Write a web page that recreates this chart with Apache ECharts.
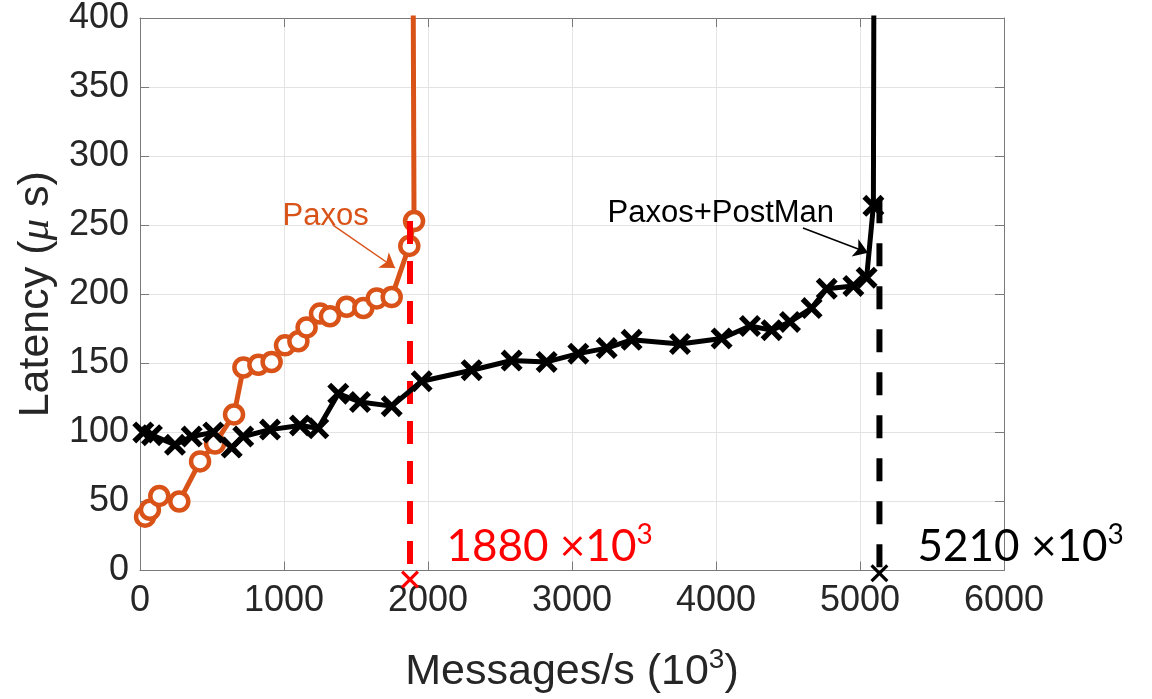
<!DOCTYPE html>
<html>
<head>
<meta charset="utf-8">
<script src="https://cdn.jsdelivr.net/npm/echarts@6/dist/echarts.min.js"></script>
<style>
html,body{margin:0;padding:0;background:#fff;}
#chart{width:1152px;height:699px;}
</style>
</head>
<body>
<div id="chart"></div>
<script>
// ---- data (x: messages/s in 10^3, y: latency in microseconds) ----
const paxosX = [35, 69, 134, 273, 417, 521, 653, 718, 822, 914, 1007, 1100, 1157, 1250, 1319, 1435, 1551, 1644, 1748, 1870, 1903];
const paxosY = [39, 44, 54, 50, 79, 92, 113, 147, 149, 151, 163, 166, 176, 186, 184, 191, 190, 197, 198, 235, 253];
const paxosTail = [1896, 450]; // line continues beyond top of axis (saturation)

const postmanX = [23, 83, 243, 359, 509, 637, 717, 903, 1111, 1238, 1377, 1528, 1748, 1956, 2303, 2581, 2824, 3044, 3241, 3414, 3750, 4039, 4236, 4386, 4514, 4664, 4769, 4954, 5046, 5093];
const postmanY = [100, 98, 91, 97, 100, 89, 97, 102, 105, 103, 128, 122, 119, 137, 145, 152, 151, 157, 161, 167, 164, 168, 177, 174, 180, 190, 204, 206, 212, 264];
const postmanTail = [5097, 450];

const paxosMaxX = 1875, paxosMaxTop = 253;
const postmanMaxX = 5135, postmanMaxTop = 268;
const markBelow = [[paxosMaxX, -6.5], [postmanMaxX, -2]];

const xTicks = [0, 1000, 2000, 3000, 4000, 5000, 6000];
const yTicks = [0, 50, 100, 150, 200, 250, 300, 350, 400];

const annoPaxos = {pos: [993, 256], text: 'Paxos'};
const annoPostman = {pos: [3250, 258], text: 'Paxos+PostMan'};
const arrowPaxos = [[1340, 250], [1771, 219]];
const arrowPostman = [[4604, 248], [5056, 230]];
const label1880 = {pos: [2132, 17], main: '1880 ×10', sup: '3'};
const label5210 = {pos: [5403, 17], main: '5210 ×10', sup: '3'};

// ---- build ----
const ORANGE = '#D95319';
const FONT = "'Liberation Sans', Arial, sans-serif";
const pax = paxosX.map((x, i) => [x, paxosY[i]]);
pax.push({value: paxosTail, symbol: 'none'});
const pm = postmanX.map((x, i) => [x, postmanY[i]]);
pm.push({value: postmanTail, symbol: 'none'});

const XPATH = 'path://M0,1.75L1.75,0L5,3.25L8.25,0L10,1.75L6.75,5L10,8.25L8.25,10L5,6.75L1.75,10L0,8.25L3.25,5Z';
const XPATH_THIN = 'path://M0,1.25L1.25,0L5,3.75L8.75,0L10,1.25L6.25,5L10,8.75L8.75,10L5,6.25L1.25,10L0,8.75L3.75,5Z';

const axisColor = '#7a7a7a';
const tickText = '#262626';

function textPoint(anno, color, size) {
  return {
    type: 'scatter', clip: false, silent: true, symbolSize: 1, z: 10,
    itemStyle: {color: 'rgba(0,0,0,0)', opacity: 1},
    data: [anno.pos],
    label: {show: true, position: [0, 0], align: 'left', verticalAlign: 'middle', opacity: 1,
      formatter: anno.text, color: color, fontSize: size, fontFamily: FONT}
  };
}
function supPoint(anno, color) {
  const ff = "Lato, 'Open Sans', sans-serif";
  return {
    type: 'scatter', clip: false, silent: true, symbolSize: 1, z: 10,
    itemStyle: {color: 'rgba(0,0,0,0)', opacity: 1},
    data: [anno.pos],
    label: {show: true, position: [0, 0], align: 'left', verticalAlign: 'middle', opacity: 1,
      formatter: '{a|' + anno.main + '}{b|' + anno.sup + '}',
      rich: {
        a: {fontSize: 44, fontFamily: ff, color: color, lineHeight: 52},
        b: {fontSize: 28, fontFamily: ff, color: color, lineHeight: 26, verticalAlign: 'top'}
      }}
  };
}

const option = {
  animation: false,
  backgroundColor: '#fff',
  grid: {left: 140, right: 148, top: 17, bottom: 128, containLabel: false},
  xAxis: [{
    type: 'value', min: 0, max: 6000, interval: 1000, position: 'bottom',
    axisLine: {show: true, onZero: false, lineStyle: {color: axisColor, width: 1}},
    axisTick: {show: true, inside: true, length: 9, lineStyle: {color: axisColor}},
    axisLabel: {color: tickText, fontSize: 36, fontFamily: FONT, margin: 13,
      formatter: v => xTicks.includes(v) ? String(v) : ''},
    splitLine: {show: true, lineStyle: {color: '#e3e3e3', width: 1}},
    name: '{a|Messages/s (10}{s|3}{a|)}', nameLocation: 'middle', nameGap: 76,
    nameTextStyle: {rich: {
      a: {fontSize: 43, fontFamily: FONT, color: tickText, lineHeight: 52},
      s: {fontSize: 28, fontFamily: FONT, color: tickText, lineHeight: 24, verticalAlign: 'top'}
    }}
  }, {
    type: 'value', min: 0, max: 6000, interval: 1000, position: 'top',
    axisLine: {show: true, onZero: false, lineStyle: {color: axisColor, width: 1}},
    axisTick: {show: true, inside: true, length: 9, lineStyle: {color: axisColor}},
    axisLabel: {show: false}, splitLine: {show: false}
  }],
  yAxis: [{
    type: 'value', min: 0, max: 400, interval: 50, position: 'left',
    axisLine: {show: true, onZero: false, lineStyle: {color: axisColor, width: 1}},
    axisTick: {show: true, inside: true, length: 9, lineStyle: {color: axisColor}},
    axisLabel: {color: tickText, fontSize: 36, fontFamily: FONT, margin: 11,
      formatter: v => yTicks.includes(v) ? String(v) : ''},
    splitLine: {show: true, lineStyle: {color: '#e3e3e3', width: 1}},
    name: '{a|Latency (}{m|μ}{a| s)}', nameLocation: 'middle', nameGap: 76, nameRotate: 90,
    nameTextStyle: {rich: {
      a: {fontSize: 43, fontFamily: FONT, color: tickText, lineHeight: 50},
      m: {fontSize: 43, fontFamily: "'Liberation Serif', serif", fontStyle: 'italic', color: tickText, lineHeight: 50}
    }}
  }, {
    type: 'value', min: 0, max: 400, interval: 50, position: 'right',
    axisLine: {show: true, onZero: false, lineStyle: {color: axisColor, width: 1}},
    axisTick: {show: true, inside: true, length: 9, lineStyle: {color: axisColor}},
    axisLabel: {show: false}, splitLine: {show: false}
  }],
  series: [
    {
      name: 'PaxosMax', type: 'line', symbol: 'none', silent: true, z: 4,
      data: [[paxosMaxX, paxosMaxTop], [paxosMaxX, 0]],
      lineStyle: {color: '#FF0000', width: 6, type: [23, 17]}
    },
    {
      name: 'PostmanMax', type: 'line', symbol: 'none', silent: true, z: 4,
      data: [[postmanMaxX, postmanMaxTop], [postmanMaxX, 0]],
      lineStyle: {color: '#000', width: 6, type: [23, 20]}
    },
    {
      name: 'Paxos', type: 'line', z: 3,
      data: pax, symbol: 'circle', symbolSize: 18,
      lineStyle: {color: ORANGE, width: 5},
      itemStyle: {color: '#fff', borderColor: ORANGE, borderWidth: 4.5}
    },
    {
      name: 'Paxos+PostMan', type: 'line', z: 5,
      data: pm, symbol: XPATH, symbolSize: 22,
      lineStyle: {color: '#000', width: 5},
      itemStyle: {color: '#000', borderWidth: 0}
    },
    {
      type: 'scatter', clip: false, silent: true, z: 6,
      data: [markBelow[0]], symbol: XPATH_THIN, symbolSize: 18,
      itemStyle: {color: '#FF0000', opacity: 1}
    },
    {
      type: 'scatter', clip: false, silent: true, z: 6,
      data: [markBelow[1]], symbol: XPATH_THIN, symbolSize: 18,
      itemStyle: {color: '#000', opacity: 1}
    },
    {
      type: 'lines', coordinateSystem: 'cartesian2d', silent: true, z: 7,
      symbol: ['none', 'arrow'], symbolSize: 14,
      lineStyle: {color: ORANGE, width: 1.5, opacity: 1, curveness: 0},
      data: [{coords: arrowPaxos}]
    },
    {
      type: 'lines', coordinateSystem: 'cartesian2d', silent: true, z: 7,
      symbol: ['none', 'arrow'], symbolSize: 14,
      lineStyle: {color: '#000', width: 1.5, opacity: 1, curveness: 0},
      data: [{coords: arrowPostman}]
    },
    textPoint(annoPaxos, ORANGE, 31),
    textPoint(annoPostman, '#000', 31),
    supPoint(label1880, '#FF0000'),
    supPoint(label5210, '#000')
  ]
};

const chart = echarts.init(document.getElementById('chart'), null, {renderer: 'canvas'});
chart.setOption(option);
</script>
</body>
</html>
